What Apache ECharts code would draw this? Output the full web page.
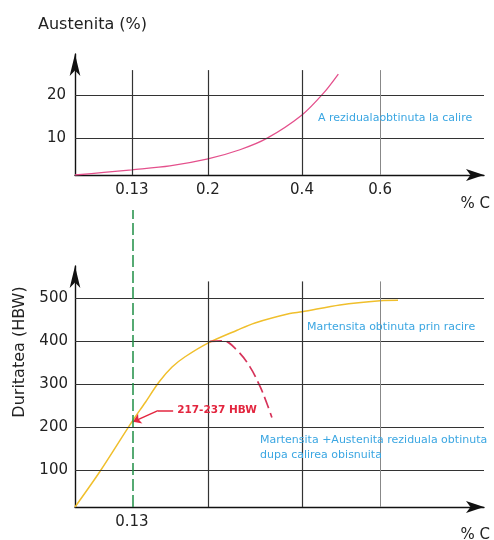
<!DOCTYPE html>
<html>
<head>
<meta charset="utf-8">
<script src="https://cdn.jsdelivr.net/npm/echarts@6/dist/echarts.min.js"></script>
<style>
  html, body { margin: 0; padding: 0; background: #fff; }
  #chart { width: 494px; height: 540px; }
</style>
</head>
<body>
<div id="chart"></div>
<script>
// grid lines / tick labels on the %C axis
const cTicks = [0.13, 0.2, 0.4, 0.6];
const topXLabels = ["0.13", "0.2", "0.4", "0.6"];
const bottomXTicks = [0.13];
const bottomXLabels = ["0.13"];
const austTicks = [10, 20];
const hbwTicks = [100, 200, 300, 400, 500];

// A reziduala obtinuta la calire (%)
const austC = [0, 0.066, 0.13, 0.165, 0.2, 0.268, 0.325, 0.4, 0.455, 0.493];
const austVal = [1.6, 2.2, 2.8, 3.7, 5.3, 7.4, 10.0, 15.4, 20.4, 24.8];

// Martensita obtinuta prin racire (HBW)
const martC = [0, 0.057, 0.13, 0.142, 0.155, 0.167, 0.179, 0.2, 0.262, 0.3, 0.374, 0.4, 0.497, 0.6, 0.646];
const martHBW = [13, 96, 212, 256, 305, 340, 364, 396, 426, 443, 465, 469, 485, 495, 496];

// Martensita + Austenita reziduala (HBW), dashed
const mixC = [0.204, 0.232, 0.261, 0.289, 0.311, 0.325, 0.336];
const mixHBW = [400, 401, 380, 341, 294, 256, 222];

// the sketch is not to scale: each gap between grid lines has its own width
const cKnots = [0, 0.13, 0.2, 0.4, 0.6, 0.867];
const uKnots = [0, 0.139, 0.325, 0.555, 0.746, 1];
function cToU(c) {
  for (let i = 1; i < cKnots.length; i++) {
    if (c <= cKnots[i]) {
      const t = (c - cKnots[i - 1]) / (cKnots[i] - cKnots[i - 1]);
      return uKnots[i - 1] + t * (uKnots[i] - uKnots[i - 1]);
    }
  }
  return 1;
}
function zip(xs, ys) {
  return xs.map((c, i) => [cToU(c), ys[i]]);
}
function labelFor(ticks, labels) {
  return function (v) {
    const i = ticks.findIndex((c) => Math.abs(cToU(c) - v) < 1e-6);
    return i >= 0 ? labels[i] : "";
  };
}

const FONT = "DejaVu Sans";
const topMin = 1.6, topMax = 29.4, topLineTop = 25.7;
const botMin = 13, botMax = 576, botLineTop = 540;
const martAt013 = martHBW[martC.indexOf(0.13)];

const axisLine = {
  onZero: false,
  lineStyle: { color: "#111", width: 1.4 },
  symbol: ["none", "arrow"],
};
const tickLabel = { fontFamily: FONT, fontSize: 15, color: "#222" };
const gridStyle = { color: "#333", width: 1.2, type: "solid" };

function vLines(ticks, y0, y1) {
  return ticks.map((c) => [
    { coord: [cToU(c), y0], lineStyle: c === 0.6 ? { color: "#888", width: 1 } : {} },
    { coord: [cToU(c), y1] },
  ]);
}

const myChart = echarts.init(document.getElementById("chart"));
myChart.setOption({
  animation: false,
  backgroundColor: "#fff",
  title: [
    {
      text: "Austenita (%)", left: 38, top: 16, padding: 0,
      textStyle: { fontFamily: FONT, fontSize: 16, fontWeight: "normal", color: "#222", lineHeight: 18 },
    },
    {
      text: "A rezidualaobtinuta la calire", left: 318, top: 112, padding: 0,
      textStyle: { fontFamily: FONT, fontSize: 11, fontWeight: "normal", color: "#3aa6e2", lineHeight: 13 },
    },
    {
      text: "Martensita obtinuta prin racire", left: 307, top: 321, padding: 0,
      textStyle: { fontFamily: FONT, fontSize: 11, fontWeight: "normal", color: "#3aa6e2", lineHeight: 13 },
    },
    {
      text: "Martensita +Austenita reziduala obtinuta\ndupa calirea obisnuita", left: 260, top: 433, padding: 0,
      textStyle: { fontFamily: FONT, fontSize: 11, fontWeight: "normal", color: "#3aa6e2", lineHeight: 15 },
    },
  ],
  graphic: [
    {
      type: "text", x: 20, y: 352, rotation: Math.PI / 2, silent: true,
      style: {
        text: "Duritatea (HBW)", font: "16px " + FONT, fill: "#222",
        align: "center", verticalAlign: "middle", textAlign: "center", textVerticalAlign: "middle",
      },
    },
  ],
  grid: [
    { left: 75, right: 10, top: 54, bottom: 365, outerBoundsMode: "none" },
    { left: 75, right: 10, top: 266, bottom: 33, outerBoundsMode: "none" },
    { left: 75, right: 10, top: 210, bottom: 33, outerBoundsMode: "none" },
  ],
  xAxis: [
    {
      gridIndex: 0, type: "value", min: 0, max: 1,
      name: "% C", nameLocation: "end", nameGap: 6, nameMoveOverlap: false,
      nameTextStyle: { fontFamily: FONT, fontSize: 15, color: "#222", align: "right", verticalAlign: "top", padding: [22, 0, 0, 0] },
      axisLine: { ...axisLine, symbolSize: [9, 18] },
      axisTick: { show: false },
      splitLine: { show: false },
      axisLabel: { ...tickLabel, margin: 8, customValues: cTicks.map(cToU), formatter: labelFor(cTicks, topXLabels) },
    },
    {
      gridIndex: 1, type: "value", min: 0, max: 1,
      name: "% C", nameLocation: "end", nameGap: 6, nameMoveOverlap: false,
      nameTextStyle: { fontFamily: FONT, fontSize: 15, color: "#222", align: "right", verticalAlign: "top", padding: [21, 0, 0, 0] },
      axisLine: { ...axisLine, symbolSize: [9, 18] },
      axisTick: { show: false },
      splitLine: { show: false },
      axisLabel: { ...tickLabel, margin: 8, customValues: bottomXTicks.map(cToU), formatter: labelFor(bottomXTicks, bottomXLabels) },
    },
    { gridIndex: 2, type: "value", min: 0, max: 1, show: false },
  ],
  yAxis: [
    {
      gridIndex: 0, type: "value", min: topMin, max: topMax,
      axisLine: { ...axisLine, symbolSize: [8, 22] },
      axisTick: { show: false },
      splitLine: { show: false },
      axisLabel: { ...tickLabel, margin: 9, customValues: austTicks },
    },
    {
      gridIndex: 1, type: "value", min: botMin, max: botMax,
      axisLine: { ...axisLine, symbolSize: [8, 22] },
      axisTick: { show: false },
      splitLine: { show: false },
      axisLabel: { ...tickLabel, margin: 7, customValues: hbwTicks },
    },
    { gridIndex: 2, type: "value", min: 0, max: 1, show: false },
  ],
  series: [
    {
      name: "A reziduala",
      type: "line", xAxisIndex: 0, yAxisIndex: 0,
      data: zip(austC, austVal),
      smooth: 0.3, showSymbol: false, silent: true, z: 3,
      lineStyle: { color: "#e4508c", width: 1.3 },
      markLine: {
        silent: true, symbol: "none", label: { show: false }, lineStyle: gridStyle,
        data: austTicks.map((v) => ({ yAxis: v })).concat(vLines(cTicks, topMin, topLineTop)),
      },
    },
    {
      name: "Martensita",
      type: "line", xAxisIndex: 1, yAxisIndex: 1,
      data: zip(martC, martHBW),
      smooth: 0.3, showSymbol: false, silent: true, z: 3,
      lineStyle: { color: "#f0bf2c", width: 1.5 },
      markLine: {
        silent: true, symbol: "none", label: { show: false }, lineStyle: gridStyle,
        data: hbwTicks.map((v) => ({ yAxis: v })).concat(vLines(cTicks.slice(1), botMin, botLineTop)),
      },
    },
    {
      name: "Martensita + A reziduala",
      type: "line", xAxisIndex: 1, yAxisIndex: 1,
      data: zip(mixC, mixHBW),
      smooth: 0.4, showSymbol: false, silent: true, z: 4,
      lineStyle: { color: "#d6335a", width: 1.7, type: [12, 5] },
    },
    {
      name: "217-237 HBW",
      type: "line", xAxisIndex: 1, yAxisIndex: 1,
      data: [], silent: true,
      markLine: {
        silent: true, symbol: "none",
        lineStyle: { color: "#e3263f", width: 1.5, type: "solid" },
        label: { show: false },
        data: [
          [
            {
              coord: [cToU(0.168), 238],
              label: { show: true, position: "start", distance: 4, formatter: "217-237 HBW", color: "#e3263f", fontFamily: FONT, fontSize: 10.5, fontWeight: "bold" },
            },
            { coord: [cToU(0.154), 238] },
          ],
          [
            { coord: [cToU(0.154), 238], symbol: "none" },
            { coord: [cToU(0.131), martAt013], symbol: "arrow", symbolSize: 8 },
          ],
        ],
      },
    },
    {
      name: "0.13 %C",
      type: "line", xAxisIndex: 2, yAxisIndex: 2,
      data: [], silent: true,
      markLine: {
        silent: true, symbol: "none", label: { show: false },
        lineStyle: { color: "#1f8f45", width: 1.5, type: [12, 4] },
        data: [{ xAxis: cToU(0.13) }],
      },
    },
  ],
});
window.addEventListener("resize", function () {
  myChart.resize();
});
</script>
</body>
</html>
